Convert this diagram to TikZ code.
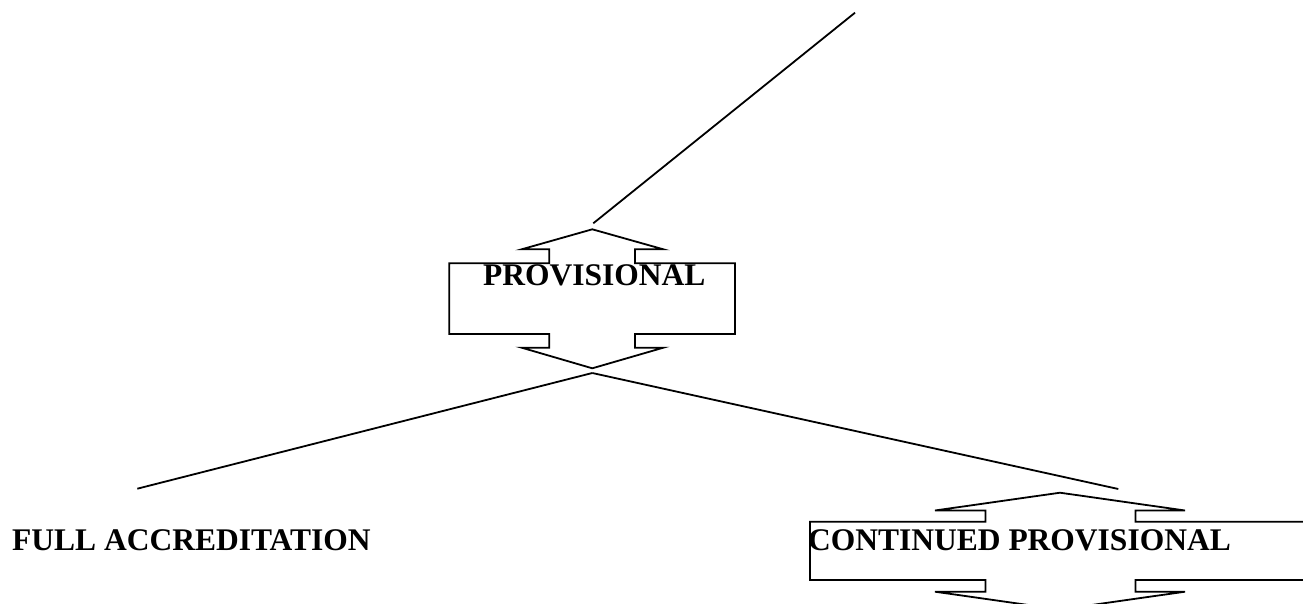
\documentclass[tikz,border=0pt]{standalone}
\usepackage{fontspec}
\setmainfont{Liberation Serif}
\begin{document}
\begin{tikzpicture}[x=1pt,y=-1pt,
  outline/.style={draw=black,line width=1.8pt,line join=miter},
  link/.style={draw=black,line width=1.8pt},
  label/.style={inner sep=0pt,anchor=base west,font=\fontsize{31.5}{36}\selectfont\bfseries}]
\clip (0,0) rectangle (1303,604);

% double-headed box around PROVISIONAL
\coordinate (pa) at (592.3,229.3);
\coordinate (pb) at (592.3,368.3);
\draw[outline] (pa) -- (663.3,249.3) -- (635,249.3) -- (635,263.3) -- (735,263.3)
  -- (735,334) -- (635,334) -- (635,347.7) -- (663.3,347.7) -- (pb)
  -- (521.7,347.7) -- (549.3,347.7) -- (549.3,334) -- (449.3,334) -- (449.3,263.3)
  -- (549.3,263.3) -- (549.3,249.3) -- (521.7,249.3) -- cycle;

% double-headed box around CONTINUED PROVISIONAL
\coordinate (ca) at (1060,492.7);
\coordinate (cb) at (1060,609.5);
\draw[outline] (ca) -- (1185,510.5) -- (1135.5,510.5) -- (1135.5,521.7) -- (1310,521.7)
  -- (1310,580) -- (1135.5,580) -- (1135.5,591.7) -- (1185,591.7) -- (cb)
  -- (935,591.7) -- (985.5,591.7) -- (985.5,580) -- (810,580) -- (810,521.7)
  -- (985.5,521.7) -- (985.5,510.5) -- (935,510.5) -- cycle;

% labels
\node[label] (prov) at (483,285) {PROVISIONAL};
\node[label] (full) at (12,550) {FULL ACCREDITATION};
\node[label,anchor=base east] (cont) at (1231,550) {CONTINUED PROVISIONAL};

% connectors
\coordinate (top) at (855,12.7);
\coordinate (ptop) at (593.3,223.3);
\coordinate (pbot) at (592.3,373);
\coordinate (fend) at (137.3,488.7);
\coordinate (cend) at (1118.3,489);
\draw[link] (ptop) -- (top);
\draw[link] (pbot) -- (fend);
\draw[link] (pbot) -- (cend);
\end{tikzpicture}
\end{document}
